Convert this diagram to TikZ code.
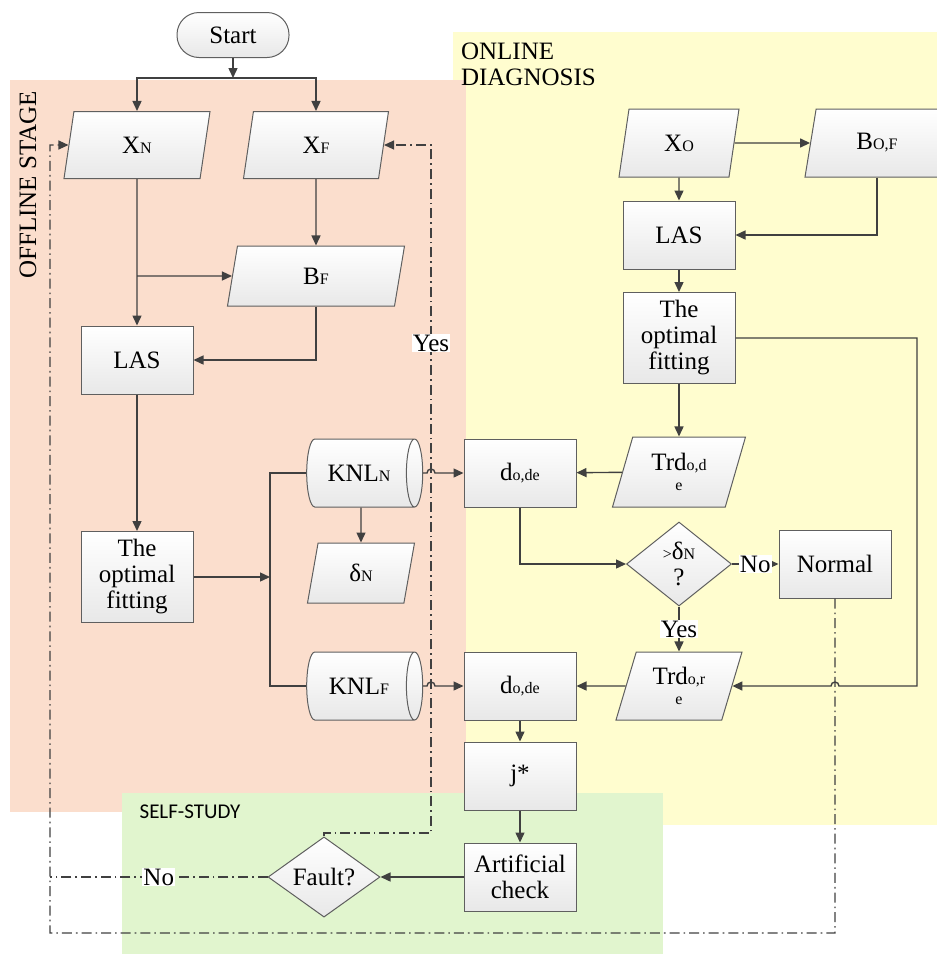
\documentclass[tikz,border=0pt]{standalone}
\usepackage{fontspec}
\setmainfont{Liberation Serif}
\newfontfamily\selffont{Carlito}
\usetikzlibrary{shapes.geometric,arrows.meta}

\definecolor{linegray}{RGB}{64,64,64}
\definecolor{boxgray}{RGB}{95,95,95}
\definecolor{offbg}{RGB}{251,222,205}
\definecolor{onbg}{RGB}{255,253,207}
\definecolor{selfbg}{RGB}{225,245,206}
\newcommand{\sub}[1]{{\fontsize{8}{9}\selectfont #1}}

\begin{document}
\begin{tikzpicture}[x=0.5pt,y=-0.5pt,
  font=\fontsize{12.5}{13}\selectfont,
  >={Triangle[length=5pt,width=4.5pt]},
  every node/.style={align=center},
  shapebox/.style={draw=boxgray,line width=0.5pt,top color=white,bottom color=black!9,inner sep=1pt},
  proc/.style={shapebox,rectangle,minimum width=56pt,minimum height=#1},
  proc/.default=34pt,
  term/.style={shapebox,rectangle,rounded corners=11pt,minimum width=56pt,minimum height=22.5pt},
  io/.style 2 args={shapebox,trapezium,trapezium left angle=64,trapezium right angle=116,
    trapezium stretches body=true,minimum width=#1,minimum height=#2},
  knl/.style={shapebox,cylinder,shape aspect=0.8,minimum width=34pt,minimum height=58pt},
  decision/.style 2 args={shapebox,diamond,inner sep=0pt,minimum width=#1,minimum height=#2},
  flow/.style={draw=linegray,line width=0.7pt},
  dd/.style={draw=linegray,line width=0.6pt,dash pattern=on 5pt off 2pt on 0.8pt off 2pt},
  lbl/.style={fill=white,inner sep=0.5pt}]

\useasboundingbox (0,0) rectangle (937,954);

% stage backgrounds
\fill[onbg] (453,32) rectangle (937,825);
\fill[offbg] (10,80) rectangle (466,812);
\fill[selfbg] (122,793) rectangle (663,954);

\node[rotate=90] (offl) at (28,185) {OFFLINE STAGE};
\node[anchor=north west,align=left] (onl) at (454,36) {ONLINE\\DIAGNOSIS};
\node (self) at (190,812) {\selffont\fontsize{10.5}{12}\selectfont SELF-STUDY};

% offline
\node[term] (start) at (233,35) {Start};
\node[io={73pt}{33.5pt}] (xn) at (137,145) {X\sub{N}};
\node[io={72.5pt}{33.5pt}] (xf) at (316,145) {X\sub{F}};
\node[io={88.5pt}{30pt}] (bf) at (316,276) {B\sub{F}};
\node[proc] (las1) at (137,360) {LAS};
\node[proc=45.5pt] (fit1) at (137,577) {The\\optimal\\fitting};
\node[knl] (knln) at (359,473) {KNL\sub{N}};
\node[io={53.5pt}{30pt}] (dn) at (361,573) {δ\sub{N}};
\node[knl] (knlf) at (359,686) {KNL\sub{F}};

% online
\node[io={60pt}{34pt}] (xo) at (679,143) {X\sub{O}};
\node[io={72pt}{34pt}] (bof) at (877,143) {B\sub{O,F}};
\node[proc] (las2) at (679,235) {LAS};
\node[proc=45.5pt] (fit2) at (679,338) {The\\optimal\\fitting};
\node[io={66.5pt}{35pt}] (trdde) at (679,472) {Trd\sub{o,d}\\[-3pt]\sub{e}};
\node[proc] (dode1) at (520,473) {d\sub{o,de}};
\node[decision={52.5pt}{42pt}] (dec) at (679,564) {\sub{>}δ\sub{N}\\?};
\node[proc] (normal) at (835,564) {Normal};
\node[io={63pt}{34pt}] (trdre) at (679,686) {Trd\sub{o,r}\\[-3pt]\sub{e}};
\node[proc] (dode2) at (520,686) {d\sub{o,de}};

% self-study
\node[proc] (jstar) at (520,776) {j*};
\node[proc] (check) at (520,877) {Artificial\\check};
\node[decision={56pt}{34pt}] (fault) at (324,877) {Fault?};

\draw[flow,->] (start) -- (233,78) coordinate (sp);
\draw[flow,->] (sp) -| (xn);
\draw[flow,->] (sp) -| (xf);
\draw[flow,->] (xn) -- (las1);
\draw[flow,->] (xn |- bf) -- (bf);
\draw[flow,->] (xf) -- (bf);
\draw[flow,->] (bf) |- (las1);
\draw[flow,->] (las1) -- (fit1);
\draw[flow,->] (fit1) -- (270,577) coordinate (jn);
\draw[flow] (knln) -| (jn) |- (knlf);
\draw[flow,->] (knln.south -| dn) -- (dn);
\draw[flow,->] (knln.east) -- (427,473) arc[start angle=180,end angle=360,radius=4] -- (dode1);
\draw[flow,->] (knlf.east) -- (427,686) arc[start angle=180,end angle=360,radius=4] -- (dode2);

\draw[flow,->] (xo) -- (bof);
\draw[flow,->] (xo) -- (las2);
\draw[flow,->] (bof) |- (las2);
\draw[flow,->] (las2) -- (fit2);
\draw[flow,->] (fit2) -- (trdde);
\draw[flow,->] (fit2.east) -- (917,338) -- (917,686) -- (839,686)
  arc[start angle=0,end angle=-180,radius=4] -- (trdre);
\draw[flow,->] (trdde) -- (dode1);
\draw[flow,->] (dode1) |- (dec);
\draw[flow,->] (dec) -- node[lbl] {No} (normal);
\draw[flow,->] (dec) -- node[lbl] {Yes} (trdre);
\draw[flow,->] (trdre) -- (dode2);
\draw[flow,->] (dode2) -- (jstar);
\draw[flow,->] (jstar) -- (check);
\draw[flow,->] (check) -- (fault);

% feedback
\draw[dd,->] (fault) -- (324,833) -- (431,833) -- node[lbl,pos=0.712] {Yes} (431,145) -- (xf);
\draw[dd] (fault) -- node[lbl] {No} (50,877);
\draw[dd,->] (normal) -- (835,933) -- (50,933) -- (50,145) -- (xn);
\end{tikzpicture}
\end{document}
